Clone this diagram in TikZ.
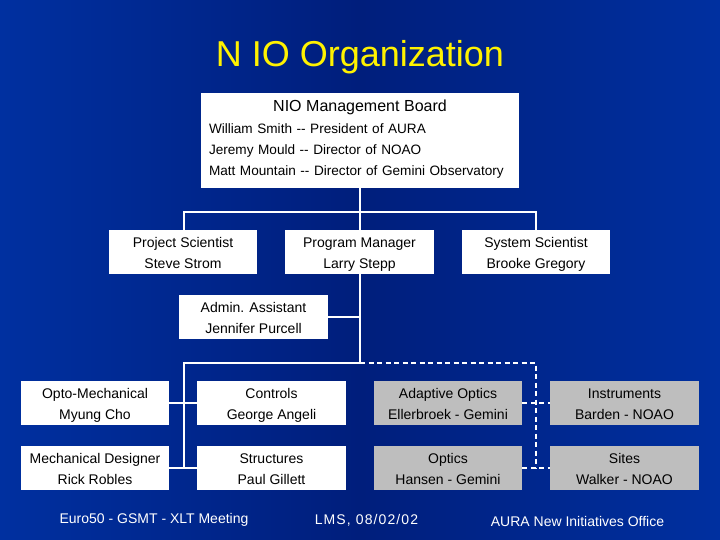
\documentclass[tikz,border=0pt]{standalone}
\usepackage{fontspec}
\setmainfont{Liberation Sans}
\definecolor{bgedge}{RGB}{0,48,160}
\definecolor{bgmid}{RGB}{0,30,124}
\definecolor{boxgray}{RGB}{190,190,190}
\newcommand\rl{\rule[-4.5pt]{0pt}{21pt}}
\newcommand\bl{\rule[-6.5pt]{0pt}{21pt}}
\tikzset{
  orgbox/.style={draw=none,fill=white,text=black,minimum width=148.5pt,minimum height=44pt,inner sep=0pt,align=center,font=\fontsize{14}{21}\selectfont},
  advbox/.style={orgbox,fill=boxgray},
  solidlink/.style={draw=white,line width=2.3pt},
  dashlink/.style={draw=white,line width=2.3pt,dash pattern=on 5pt off 3.5pt},
  footer/.style={text=white,font=\fontsize{14}{16}\selectfont,inner sep=0pt,anchor=center}
}
\begin{document}
\begin{tikzpicture}[x=1pt,y=-1pt]
\useasboundingbox (0,0) rectangle (720,540);
\shade[left color=bgedge,right color=bgedge,middle color=bgmid] (0,0) rectangle (720,540);
\node[text=yellow,font=\fontsize{36}{40}\selectfont,inner sep=0pt] (title) at (360,57) {N IO Organization};
\node[fill=white,text=black,minimum width=318pt,minimum height=95pt,inner sep=0pt,text width=302pt,align=left,font=\fontsize{13.6}{21}\selectfont] (board) at (360,140.5)
  {\bl\makebox[302pt]{\raisebox{1pt}{\fontsize{16}{21}\selectfont NIO Management Board}}\\\bl William Smith -{}- President of AURA\\\bl Jeremy Mould -{}- Director of NOAO\\\bl\mbox{Matt Mountain -{}- Director of Gemini Observatory}};
\node[orgbox] (ps) at (183,252) {\rl Project Scientist\\\rl Steve Strom};
\node[orgbox] (pm) at (359.5,252) {\rl Program Manager\\\rl Larry Stepp};
\node[orgbox] (ss) at (536,252) {\rl System Scientist\\\rl Brooke Gregory};
\node[orgbox] (aa) at (253.5,317) {\rl Admin. Assistant\\\rl Jennifer Purcell};
\node[orgbox] (om) at (95,403) {\rl Opto-Mechanical\\\rl Myung Cho};
\node[orgbox] (co) at (271.5,403) {\rl Controls\\\rl George Angeli};
\node[advbox] (ao) at (448,403) {\rl Adaptive Optics\\\rl Ellerbroek - Gemini};
\node[advbox] (in) at (624.5,403) {\rl Instruments\\\rl Barden - NOAO};
\node[orgbox] (md) at (95,468) {\rl Mechanical Designer\\\rl Rick Robles};
\node[orgbox] (st) at (271.5,468) {\rl Structures\\\rl Paul Gillett};
\node[advbox] (op) at (448,468) {\rl Optics\\\rl Hansen - Gemini};
\node[advbox] (si) at (624.5,468) {\rl Sites\\\rl Walker - NOAO};
\coordinate (tee) at (360,212);
\coordinate (split) at (360,363);
\coordinate (leftbus) at (184,363);
\coordinate (rightbus) at (536,363);
\coordinate (lefttop) at (184,212);
\coordinate (righttop) at (536,212);
\coordinate (aatee) at (360,317);
\coordinate (leftend) at (184,468);
\coordinate (rightend) at (536,468);
\draw[solidlink] (board.south -| tee) -- (pm.north -| tee);
\draw[solidlink] (ps.north -| lefttop) -- (lefttop) -- (righttop) -- (ss.north -| righttop);
\draw[solidlink] (pm.south -| tee) -- (split);
\draw[solidlink] (aa.east) -- (aatee);
\draw[solidlink] (split) -- (leftbus) -- (leftend);
\draw[solidlink] (om.east) -- (co.west);
\draw[solidlink] (md.east) -- (st.west);
\draw[dashlink] (split) -- (rightbus) -- (rightend);
\draw[dashlink] (ao.east) -- (in.west);
\draw[dashlink] (op.east) -- (si.west);
\node[footer] (f1) at (154,520) {Euro50 - GSMT - XLT Meeting};
\node[footer] (f2) at (366.5,520) {\addfontfeature{LetterSpace=8}LMS, 08/02/02};
\node[footer] (f3) at (577.5,521) {AURA New Initiatives Office};
\end{tikzpicture}
\end{document}
